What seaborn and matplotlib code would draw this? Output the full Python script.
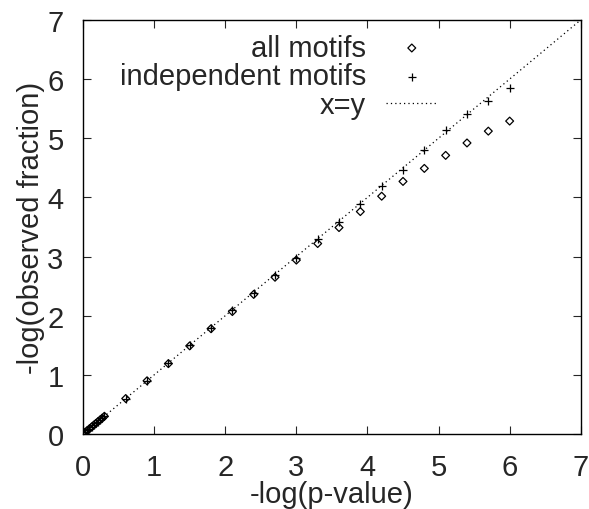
import pandas as pd
import matplotlib
matplotlib.use('Agg')
import matplotlib.pyplot as plt
import seaborn as sns

# -log(p-value) values
pvals = [0.0, 0.03, 0.06, 0.09, 0.12, 0.15, 0.18, 0.21, 0.24, 0.27, 0.3,
         0.6, 0.9, 1.2, 1.5, 1.8, 2.1, 2.4, 2.7, 3.0, 3.3, 3.6, 3.9,
         4.2, 4.5, 4.8, 5.1, 5.4, 5.7, 6.0]
# -log(observed fraction), all motifs
all_motifs = [0.0, 0.03, 0.06, 0.09, 0.12, 0.15, 0.18, 0.21, 0.24, 0.27, 0.3,
              0.60, 0.90, 1.19, 1.49, 1.78, 2.07, 2.36, 2.65, 2.94, 3.22, 3.49, 3.76,
              4.02, 4.27, 4.49, 4.71, 4.92, 5.12, 5.29]
# -log(observed fraction), independent motifs
indep_motifs = [0.0, 0.03, 0.06, 0.09, 0.12, 0.15, 0.18, 0.21, 0.24, 0.27, 0.3,
                0.60, 0.90, 1.20, 1.50, 1.80, 2.09, 2.39, 2.69, 2.98, 3.29, 3.59, 3.88,
                4.19, 4.47, 4.80, 5.14, 5.41, 5.63, 5.85]

data = pd.DataFrame({'p': pvals, 'all': all_motifs, 'indep': indep_motifs})

sns.set_style('white')
plt.rcParams['font.family'] = ['Liberation Sans', 'DejaVu Sans']
plt.rcParams['font.size'] = 21

fig, ax = plt.subplots(figsize=(5.89, 5.10), dpi=100)
fig.subplots_adjust(left=0.141, right=0.986, top=0.959, bottom=0.147)

sns.scatterplot(data=data, x='p', y='all', marker='D', s=16, facecolor='none',
                edgecolor='black', linewidth=0.9, label='all motifs', ax=ax, zorder=3)
sns.scatterplot(data=data, x='p', y='indep', marker='+', s=40, color='black',
                linewidth=0.9, label='independent motifs', ax=ax, zorder=3)
ax.axline((0, 0), slope=1, color='black', linestyle=(0, (1, 2.5)), linewidth=0.9,
          label='x=y', zorder=2)

ax.set_xlim(0, 7)
ax.set_ylim(0, 7)
ax.set_xticks(range(8))
ax.set_yticks(range(8))
ax.set_xlabel('-log(p-value)', labelpad=-1)
ax.set_ylabel('-log(observed fraction)', labelpad=2)
ax.tick_params(direction='in', length=6, width=0.8, top=True, right=True,
               bottom=True, left=True, labelsize=21, pad=14)
for s in ax.spines.values():
    s.set_color('black')
    s.set_linewidth(1)

leg = ax.legend(loc='upper left', bbox_to_anchor=(0.05, 0.995), markerfirst=False,
                frameon=False, fontsize=21, handlelength=1.75, handletextpad=0.7,
                labelspacing=0.02, borderaxespad=0)

fig.savefig('out.png', dpi=100)
